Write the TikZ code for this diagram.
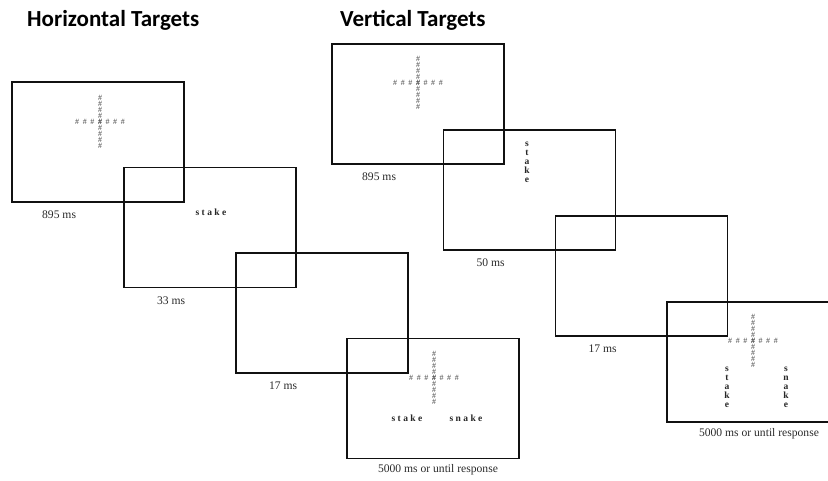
\documentclass[tikz,border=0pt]{standalone}
\usepackage{fontspec}
\setmainfont{Liberation Serif}
\newfontfamily\headfont{Carlito}
\usepackage{tikz}
\usetikzlibrary{positioning,calc}
\definecolor{fline}{HTML}{111111}
\definecolor{hashgray}{HTML}{4A4A4A}
\definecolor{labgray}{HTML}{2A2A2A}
\newcommand{\hashrow}{\#\kern3.6pt\#\kern3.6pt\#\kern3.6pt\#\kern3.6pt\#\kern3.6pt\#\kern3.6pt\#}
\newcommand{\hashcol}{\#\\\#\\\#\\\#\\\#\\\#\\\#\\\#\\\#}
\newcommand{\wsp}{\kern2.4pt}
\tikzset{
  frame/.style={draw=fline, line width=1.8pt, minimum width=172pt, minimum height=120pt, inner sep=0pt},
  hashes/.style={text=hashgray, font=\fontsize{8}{6}\selectfont, inner sep=0pt, align=center},
  word/.style={font=\fontsize{9.5}{9}\selectfont\bfseries, text=black!85, inner sep=0pt, align=center},
  dur/.style={font=\fontsize{11.6}{13}\selectfont, text=labgray, inner sep=0pt},
  heading/.style={font=\headfont\bfseries\fontsize{23}{27}\selectfont, inner sep=0pt, anchor=base west},
}

\begin{document}
\begin{tikzpicture}[x=1pt, y=1pt]
\clip (0,0) rectangle (828,-481);
\node[heading] (hhead) at (27,-27) {Horizontal Targets};
\node[heading] (vhead) at (340,-27) {Vertical Targets};
% horizontal targets
\node[frame] (h1) at (98,-142) {};
\node[frame] (h2) at (210,-227.5) {};
\node[frame] (h3) at (322,-313) {};
\node[frame] (h4) at (433,-398.5) {};
\node[hashes] (h1row) at (100,-122) {\hashrow};
\node[hashes] (h1col) at (100,-122) {\hashcol};
\node[word] (h2word) at (211,-212) {s\wsp t\wsp a\wsp k\wsp e};
\node[hashes] (h4row) at (434,-378) {\hashrow};
\node[hashes] (h4col) at (434,-378) {\hashcol};
\node[word] (h4left) at (407,-418) {s\wsp t\wsp a\wsp k\wsp e};
\node[word] (h4right) at (466,-418) {s\wsp n\wsp a\wsp k\wsp e};
\node[dur] (h1time) at ($(h1.south west)+(48,-12)$) {895 ms};
\node[dur] (h2time) at ($(h2.south west)+(48,-12)$) {33 ms};
\node[dur] (h3time) at ($(h3.south west)+(48,-12)$) {17 ms};
\node[dur] (h4time) at ($(h4.south)+(5,-10)$) {5000 ms or until response};
% vertical targets
\node[frame] (v1) at (418,-104) {};
\node[frame] (v2) at (529.5,-190) {};
\node[frame] (v3) at (641.5,-276) {};
\node[frame] (v4) at (753,-362) {};
\node[hashes] (v1row) at (418,-83) {\hashrow};
\node[hashes] (v1col) at (418,-83) {\hashcol};
\node[word] (v2word) at (527,-162) {s\\t\\a\\k\\e};
\node[hashes] (v4row) at (753,-341) {\hashrow};
\node[hashes] (v4col) at (753,-341) {\hashcol};
\node[word] (v4left) at (727,-387.5) {s\\t\\a\\k\\e};
\node[word] (v4right) at (786,-387.5) {s\\n\\a\\k\\e};
\node[dur] (v1time) at ($(v1.south west)+(48,-12)$) {895 ms};
\node[dur] (v2time) at ($(v2.south west)+(48,-12)$) {50 ms};
\node[dur] (v3time) at ($(v3.south west)+(48,-12)$) {17 ms};
\node[dur] (v4time) at ($(v4.south)+(6,-11)$) {5000 ms or until response};
\end{tikzpicture}
\end{document}
